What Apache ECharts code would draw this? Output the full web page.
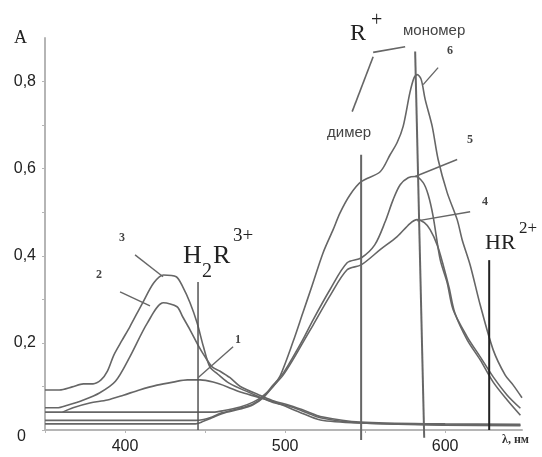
<!DOCTYPE html>
<html>
<head>
<meta charset="utf-8">
<script src="https://cdn.jsdelivr.net/npm/echarts@6/dist/echarts.min.js"></script>
<style>
  html, body { margin: 0; padding: 0; background: #fff; }
  #chart { width: 542px; height: 457px; }
</style>
</head>
<body>
<div id="chart"></div>
<script>
// spectra, wavelength (nm) and absorbance
const wl1 = [361, 367.5, 378, 389, 399, 409, 420, 430, 439, 447, 455, 464, 472, 482.5, 495, 509, 522, 547, 600, 647]
const a1 = [0.041, 0.051, 0.062, 0.069, 0.080, 0.092, 0.103, 0.110, 0.115, 0.115, 0.110, 0.099, 0.087, 0.076, 0.062, 0.041, 0.023, 0.016, 0.012, 0.011]

const wl2 = [350, 357.5, 364, 374, 384, 394, 403, 414, 424, 432.5, 436, 440.6, 445.6, 450, 454.4, 459.4, 465.6, 472, 484, 492, 503, 514, 522, 547, 600, 647]
const a2 = [0.051, 0.051, 0.057, 0.069, 0.085, 0.112, 0.168, 0.246, 0.292, 0.283, 0.26, 0.23, 0.195, 0.168, 0.145, 0.135, 0.12, 0.1, 0.08, 0.068, 0.056, 0.042, 0.031, 0.018, 0.014, 0.013]

const wl3 = [350, 359, 367, 374, 380, 385, 389, 393, 398, 403, 411, 418, 424, 432, 436, 440.6, 445, 449, 453, 458, 464, 472, 484, 492, 504, 514, 522, 547, 600, 647]
const a3 = [0.092, 0.092, 0.099, 0.106, 0.106, 0.115, 0.135, 0.172, 0.205, 0.237, 0.292, 0.338, 0.356, 0.352, 0.329, 0.292, 0.246, 0.191, 0.145, 0.128, 0.11, 0.095, 0.076, 0.064, 0.053, 0.039, 0.028, 0.016, 0.011, 0.010]

const wl4 = [350, 444, 449, 453, 461, 472, 480, 486, 492.5, 498.75, 505, 511, 517.5, 528, 538.75, 547.5, 559.4, 570, 578, 582.5, 587, 590.6, 595, 598.75, 602.5, 606, 613.75, 621.9, 630, 638.75, 647]
const a4 = [0.014, 0.014, 0.02, 0.026, 0.038, 0.048, 0.058, 0.073, 0.1, 0.126, 0.162, 0.2, 0.241, 0.308, 0.368, 0.379, 0.414, 0.444, 0.474, 0.483, 0.476, 0.460, 0.425, 0.379, 0.326, 0.269, 0.207, 0.161, 0.110, 0.069, 0.034]

const wl5 = [350, 444, 449, 453, 461, 472, 480, 486, 492.5, 498.75, 505, 511, 517.5, 528, 538.75, 547.5, 556, 562.5, 567.5, 571.9, 576.9, 581.25, 586.25, 589.4, 592.5, 596.9, 601.25, 605, 613.75, 621.9, 630, 638.75, 647]
const a5 = [0.022, 0.022, 0.024, 0.028, 0.04, 0.05, 0.06, 0.075, 0.103, 0.13, 0.168, 0.207, 0.253, 0.322, 0.384, 0.395, 0.425, 0.478, 0.529, 0.563, 0.579, 0.582, 0.568, 0.540, 0.490, 0.391, 0.338, 0.276, 0.214, 0.168, 0.122, 0.080, 0.05]

const wl6 = [350, 455, 461, 472, 480, 486, 492.5, 497, 505, 511, 517, 523.75, 530, 534.4, 540.6, 547.5, 559.4, 565.6, 570, 573.75, 578, 580.6, 582.5, 585, 587.5, 591.9, 595.6, 601.25, 607.5, 610.6, 615.6, 621.9, 630, 637.5, 642.5, 648]
const a6 = [0.041, 0.041, 0.044, 0.053, 0.064, 0.078, 0.1, 0.125, 0.203, 0.268, 0.333, 0.407, 0.46, 0.499, 0.540, 0.570, 0.593, 0.632, 0.660, 0.697, 0.775, 0.809, 0.816, 0.805, 0.759, 0.697, 0.621, 0.545, 0.483, 0.437, 0.379, 0.287, 0.184, 0.126, 0.103, 0.074]

// band positions (vertical lines)
const h2rLine = [[445.6, 0], [445.6, 0.34]]
const dimerLine = [[547.5, -0.023], [547.5, 0.632]]
const monomerLine = [[586.9, -0.018], [581.25, 0.869]]
const hrLine = [[627.5, 0], [627.5, 0.39]]

// leader lines for the labels
const leaderR1 = [[555, 0.867], [575, 0.880]]
const leaderR2 = [[555, 0.857], [541.9, 0.731]]
const leader6 = [[595.6, 0.832], [586.25, 0.793]]
const leader5 = [[607.5, 0.621], [581.25, 0.582]]
const leader4 = [[615.6, 0.501], [582.5, 0.480]]
const leader3 = [[406.25, 0.402], [423.75, 0.352]]
const leader2 = [[396.9, 0.317], [415.6, 0.285]]
const leader1 = [[467.5, 0.191], [445.6, 0.12]]

const zip = (xs, ys) => xs.map((x, i) => [x, ys[i]])

function curve(xs, ys) {
  return {
    type: 'line',
    data: zip(xs, ys),
    symbol: 'none',
    smooth: 0.3,
    lineStyle: { color: '#666', width: 1.6 }
  }
}

function straight(points, color, width) {
  return {
    type: 'line',
    data: points,
    symbol: 'none',
    clip: false,
    lineStyle: { color: color, width: width }
  }
}

function label(text, x, y, font, fill) {
  return {
    type: 'text',
    x: x,
    y: y,
    style: {
      text: text,
      font: font,
      fill: fill || '#222',
      textVerticalAlign: 'middle'
    }
  }
}

const serif = 'Liberation Serif'
const sans = 'Liberation Sans'

const chart = echarts.init(document.getElementById('chart'))
chart.setOption({
  animation: false,
  grid: { left: 45, right: 20, top: 38, bottom: 27 },
  xAxis: {
    type: 'value',
    min: 350,
    max: 648,
    interval: 50,
    axisLine: { lineStyle: { color: '#b5b5b5', width: 2 } },
    axisTick: { show: true, length: 3, lineStyle: { color: '#b5b5b5' } },
    splitLine: { show: false },
    axisLabel: {
      margin: 9,
      color: '#222',
      fontFamily: sans,
      fontSize: 16,
      showMaxLabel: false,
      formatter: v => (v % 100 === 0 ? String(v) : '')
    }
  },
  yAxis: {
    type: 'value',
    min: 0,
    max: 0.9,
    interval: 0.1,
    axisLine: { show: true, lineStyle: { color: '#b5b5b5', width: 2 } },
    axisTick: { show: true, length: 3, lineStyle: { color: '#b5b5b5' } },
    splitLine: { show: false },
    axisLabel: {
      margin: 9,
      color: '#222',
      fontFamily: sans,
      fontSize: 16,
      showMaxLabel: false,
      formatter: v => {
        const k = Math.round(v * 10)
        if (k === 0) return '{z|0}'
        return k % 2 === 0 ? (k / 10).toFixed(1).replace('.', ',') : ''
      },
      rich: { z: { fontFamily: sans, fontSize: 16, color: '#222', padding: [14, 10, 0, 0] } }
    }
  },
  series: [
    curve(wl1, a1),
    curve(wl2, a2),
    curve(wl3, a3),
    curve(wl4, a4),
    curve(wl5, a5),
    curve(wl6, a6),
    straight(h2rLine, '#555', 1.5),
    straight(dimerLine, '#666', 2),
    straight(monomerLine, '#666', 2),
    straight(hrLine, '#222', 2),
    straight(leaderR1, '#666', 1.6),
    straight(leaderR2, '#666', 1.6),
    straight(leader6, '#666', 1.4),
    straight(leader5, '#666', 1.4),
    straight(leader4, '#666', 1.4),
    straight(leader3, '#666', 1.4),
    straight(leader2, '#666', 1.4),
    straight(leader1, '#666', 1.4)
  ],
  graphic: [
    label('A', 14, 38, '18px ' + serif),
    label('R', 350, 34, '24px ' + serif),
    label('+', 371, 21, '20px ' + serif),
    label('мономер', 403, 31, '15px ' + sans, '#444'),
    label('димер', 327, 133, '15px ' + sans, '#444'),
    label('6', 447, 51, 'bold 12px ' + serif, '#444'),
    label('5', 467, 140, 'bold 12px ' + serif, '#444'),
    label('4', 482, 202, 'bold 12px ' + serif, '#444'),
    label('3', 119, 238, 'bold 12px ' + serif, '#444'),
    label('2', 96, 275, 'bold 12px ' + serif, '#444'),
    label('1', 235, 340, 'bold 12px ' + serif, '#444'),
    label('H', 183, 256, '26px ' + serif),
    label('2', 202, 272, '20px ' + serif),
    label('R', 213, 256, '26px ' + serif),
    label('3+', 233, 236, '19px ' + serif),
    label('HR', 485, 243, '22px ' + serif),
    label('2+', 519, 229, '17px ' + serif),
    label('λ, нм', 502, 440, 'bold 12px ' + serif, '#333')
  ]
})
</script>
</body>
</html>
